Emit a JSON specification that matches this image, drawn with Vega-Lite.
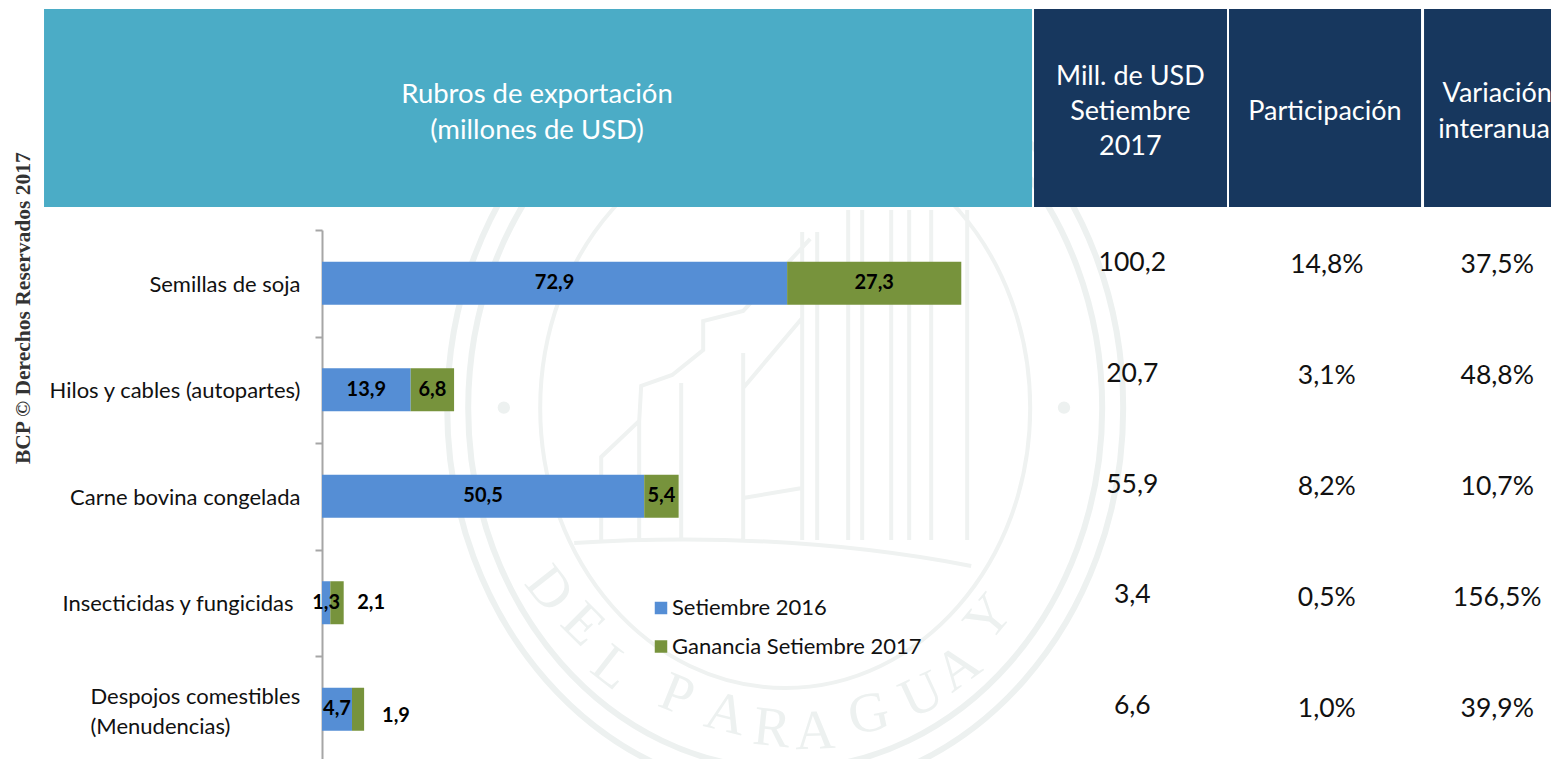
{"$schema":"https://vega.github.io/schema/vega-lite/v6.json","width":1551,"height":759,"padding":0,"autosize":{"type":"none"},"background":"white","config":{"view":{"stroke":null},"font":"Lato"},
"datasets":{"exportaciones":[
{"rubro":"Semillas de soja","serie":"Setiembre 2016","valor":72.9,"etiqueta":"72,9","orden":1},
{"rubro":"Semillas de soja","serie":"Ganancia Setiembre 2017","valor":27.3,"etiqueta":"27,3","orden":2},
{"rubro":"Hilos y cables (autopartes)","serie":"Setiembre 2016","valor":13.9,"etiqueta":"13,9","orden":1},
{"rubro":"Hilos y cables (autopartes)","serie":"Ganancia Setiembre 2017","valor":6.8,"etiqueta":"6,8","orden":2},
{"rubro":"Carne bovina congelada","serie":"Setiembre 2016","valor":50.5,"etiqueta":"50,5","orden":1},
{"rubro":"Carne bovina congelada","serie":"Ganancia Setiembre 2017","valor":5.4,"etiqueta":"5,4","orden":2},
{"rubro":"Insecticidas y fungicidas","serie":"Setiembre 2016","valor":1.3,"etiqueta":"1,3","orden":1},
{"rubro":"Insecticidas y fungicidas","serie":"Ganancia Setiembre 2017","valor":2.1,"etiqueta":"2,1","orden":2},
{"rubro":"Despojos comestibles (Menudencias)","serie":"Setiembre 2016","valor":4.7,"etiqueta":"4,7","orden":1},
{"rubro":"Despojos comestibles (Menudencias)","serie":"Ganancia Setiembre 2017","valor":1.9,"etiqueta":"1,9","orden":2}],
"tabla":[
{"rubro":"Semillas de soja","mill":"100,2","part":"14,8%","var":"37,5%"},
{"rubro":"Hilos y cables (autopartes)","mill":"20,7","part":"3,1%","var":"48,8%"},
{"rubro":"Carne bovina congelada","mill":"55,9","part":"8,2%","var":"10,7%"},
{"rubro":"Insecticidas y fungicidas","mill":"3,4","part":"0,5%","var":"156,5%"},
{"rubro":"Despojos comestibles (Menudencias)","mill":"6,6","part":"1,0%","var":"39,9%"}],
"sello":[
{"letra":"D","lon":35.6,"lat":77.6,"giro":52},{"letra":"E","lon":40.9,"lat":82.3,"giro":45},{"letra":"L","lon":45.5,"lat":88.0,"giro":38},
{"letra":"P","lon":55.6,"lat":91.6,"giro":22},{"letra":"A","lon":63.3,"lat":94.1,"giro":14},{"letra":"R","lon":70.5,"lat":96.0,"giro":6},
{"letra":"A","lon":77.3,"lat":96.4,"giro":-2},{"letra":"G","lon":85.7,"lat":94.1,"giro":-12},{"letra":"U","lon":94.0,"lat":91.6,"giro":-25},
{"letra":"A","lon":99.7,"lat":88.0,"giro":-36},{"letra":"Y","lon":104.5,"lat":81.4,"giro":-50}]},
"data":{"name":"tabla"},
"resolve":{"scale":{"y":"independent"},"axis":{"y":"independent"}},
"layer":[
{"layer":[
{"data":{"values":[{"anillo":1}]},"mark":{"type":"point","filled":false,"size":40000,"opacity":1,"stroke":"#edf1f0","strokeWidth":6,"shape":"M-3.38 0A3.38 3.85 0 1 0 3.38 0A3.38 3.85 0 1 0 -3.38 0ZM-3.17 0A3.17 3.61 0 1 0 3.17 0A3.17 3.61 0 1 0 -3.17 0Z"},"encoding":{"x":{"datum":72.6,"type":"quantitative","scale":{"domain":[-50.47,192.63],"nice":false,"zero":false},"axis":null},"y":{"datum":53.75,"type":"quantitative","scale":{"domain":[0,100],"reverse":true,"nice":false,"zero":false},"axis":null}}},
{"data":{"values":[{"anillo":2}]},"mark":{"type":"point","filled":false,"size":40000,"opacity":1,"stroke":"#eff2f1","strokeWidth":4,"shape":"M-2.45 0A2.45 2.8 0 1 0 2.45 0A2.45 2.8 0 1 0 -2.45 0ZM0.17 -1.76L0.17 1.32M0.32 -1.76L0.32 1.32M0.63 -1.98L0.63 1.32M0.77 -1.98L0.77 1.32M1.06 -1.98L1.06 1.32M1.24 -1.98L1.24 1.32M1.46 -1.98L1.46 1.32M1.82 -1.98L1.82 1.32M-2.11 1.35Q0 1.22 1.86 1.58M-1.84 1.32L-1.84 0.49L-1.46 0.13L-1.44 -0.22L-1.13 -0.33L-0.82 -0.58L-0.82 -0.87L-0.42 -0.97L0.25 -1.69M-0.42 -0.55L-0.42 1.32M-1.04 -0.25L-1.04 1.32M-1.46 0.13L-1.46 1.32M-0.42 -0.2L0.17 -0.9M-0.42 0.9L0.17 0.8"},"encoding":{"x":{"datum":72.6,"type":"quantitative","scale":{"domain":[-50.47,192.63],"nice":false,"zero":false},"axis":null},"y":{"datum":53.75,"type":"quantitative","scale":{"domain":[0,100],"reverse":true,"nice":false,"zero":false},"axis":null}}},
{"data":{"values":[{"punto":"izquierda","lon":28.5},{"punto":"derecha","lon":116.3}]},"mark":{"type":"point","filled":true,"size":154,"opacity":1,"color":"#edf1f0"},"encoding":{"x":{"field":"lon","type":"quantitative","scale":{"domain":[-50.47,192.63],"nice":false,"zero":false},"axis":null},"y":{"datum":53.7,"type":"quantitative","scale":{"domain":[0,100],"reverse":true,"nice":false,"zero":false},"axis":null}}},
{"data":{"name":"sello"},"mark":{"type":"text","font":"Liberation Serif","fontSize":56,"color":"#edf1f0","baseline":"middle"},"encoding":{"x":{"field":"lon","type":"quantitative","scale":{"domain":[-50.47,192.63],"nice":false,"zero":false},"axis":null},"y":{"field":"lat","type":"quantitative","scale":{"domain":[0,100],"reverse":true,"nice":false,"zero":false},"axis":null},"text":{"field":"letra"},"angle":{"field":"giro","type":"quantitative","scale":null}}}
]},
{"data":{"name":"exportaciones"},"encoding":{"y":{"field":"rubro","type":"nominal","sort":null,"scale":{"type":"band","domain":["Semillas de soja","Hilos y cables (autopartes)","Carne bovina congelada","Insecticidas y fungicidas","Despojos comestibles (Menudencias)"],"range":[230,762.5],"paddingInner":0,"paddingOuter":0},"axis":{"title":null,"orient":"left","offset":-322,"domainColor":"#a6a6a6","domainWidth":2,"tickColor":"#a6a6a6","tickWidth":2,"tickSize":7,"tickBand":"extent","labelFontSize":22,"labelColor":"#111111","labelFont":"Lato","labelAlign":{"condition":{"test":"datum.value==='Despojos comestibles (Menudencias)'","value":"left"},"value":"right"},"labelPadding":{"condition":[{"test":"datum.value==='Insecticidas y fungicidas'","value":22},{"test":"datum.value==='Despojos comestibles (Menudencias)'","value":225}],"value":15},"labelOffset":{"condition":{"test":"datum.value==='Despojos comestibles (Menudencias)'","value":-13},"value":1},"labelLimit":320,"labelLineHeight":30,"labelExpr":"datum.value==='Despojos comestibles (Menudencias)'?['Despojos comestibles','(Menudencias)']:datum.label"}}},
"layer":[
{"mark":{"type":"bar","size":43},"encoding":{"x":{"field":"valor","type":"quantitative","stack":"zero","scale":{"domain":[-50.47,192.63],"nice":false,"zero":false},"axis":null},"order":{"field":"orden","type":"quantitative"},"color":{"field":"serie","type":"nominal","scale":{"domain":["Setiembre 2016","Ganancia Setiembre 2017"],"range":["#558ed5","#77933c"]},"legend":{"title":null,"orient":"none","legendX":650,"legendY":597,"symbolType":"square","symbolSize":156,"symbolStrokeWidth":0,"labelFontSize":22,"labelColor":"#111111","labelFont":"Lato","labelLimit":320,"rowPadding":16.5,"labelOffset":0}}}},
{"transform":[{"filter":"!(datum.etiqueta==='2,1' || datum.etiqueta==='1,9')"}],"mark":{"type":"text","font":"Lato","fontWeight":"bold","fontSize":20,"color":"#000000","baseline":"middle"},"encoding":{"x":{"field":"valor","type":"quantitative","stack":"zero","bandPosition":0.5,"scale":{"domain":[-50.47,192.63],"nice":false,"zero":false},"axis":null},"order":{"field":"orden","type":"quantitative"},"text":{"field":"etiqueta"}}}
]},
{"mark":{"type":"text","font":"Lato","fontSize":26.5,"color":"#111111","baseline":"middle"},"encoding":{"x":{"datum":127.0,"type":"quantitative","scale":{"domain":[-50.47,192.63],"nice":false,"zero":false},"axis":null},"y":{"field":"rubro","type":"nominal","sort":null,"scale":{"type":"band","range":[207.6,761.4],"paddingInner":0,"paddingOuter":0},"axis":null},"text":{"field":"mill"}}},
{"mark":{"type":"text","font":"Lato","fontSize":26.5,"color":"#111111","baseline":"middle"},"encoding":{"x":{"datum":157.5,"type":"quantitative","scale":{"domain":[-50.47,192.63],"nice":false,"zero":false},"axis":null},"y":{"field":"rubro","type":"nominal","sort":null,"scale":{"type":"band","range":[209.5,764.5],"paddingInner":0,"paddingOuter":0},"axis":null},"text":{"field":"part"}}},
{"mark":{"type":"text","font":"Lato","fontSize":26.5,"color":"#111111","baseline":"middle"},"encoding":{"x":{"datum":184.2,"type":"quantitative","scale":{"domain":[-50.47,192.63],"nice":false,"zero":false},"axis":null},"y":{"field":"rubro","type":"nominal","sort":null,"scale":{"type":"band","range":[209.5,764.5],"paddingInner":0,"paddingOuter":0},"axis":null},"text":{"field":"var"}}},
{"layer":[
{"data":{"values":[{"cabecera":"rubros"}]},"mark":{"type":"rect","color":"#4bacc6"},"encoding":{"x":{"datum":-43.57,"type":"quantitative","scale":{"domain":[-50.47,192.63],"nice":false,"zero":false},"axis":null},"x2":{"datum":111.29},"y":{"datum":1.19,"type":"quantitative","scale":{"domain":[0,100],"reverse":true,"nice":false,"zero":false},"axis":null},"y2":{"datum":27.27}}},
{"data":{"values":[{"cabecera":"mill"}]},"mark":{"type":"rect","color":"#17375e"},"encoding":{"x":{"datum":111.6,"type":"quantitative","scale":{"domain":[-50.47,192.63],"nice":false,"zero":false},"axis":null},"x2":{"datum":141.85},"y":{"datum":1.19,"type":"quantitative","scale":{"domain":[0,100],"reverse":true,"nice":false,"zero":false},"axis":null},"y2":{"datum":27.27}}},
{"data":{"values":[{"cabecera":"part"}]},"mark":{"type":"rect","color":"#17375e"},"encoding":{"x":{"datum":142.16,"type":"quantitative","scale":{"domain":[-50.47,192.63],"nice":false,"zero":false},"axis":null},"x2":{"datum":172.26},"y":{"datum":1.19,"type":"quantitative","scale":{"domain":[0,100],"reverse":true,"nice":false,"zero":false},"axis":null},"y2":{"datum":27.27}}},
{"data":{"values":[{"cabecera":"var"}]},"mark":{"type":"rect","color":"#17375e"},"encoding":{"x":{"datum":172.73,"type":"quantitative","scale":{"domain":[-50.47,192.63],"nice":false,"zero":false},"axis":null},"x2":{"datum":192.63},"y":{"datum":1.19,"type":"quantitative","scale":{"domain":[0,100],"reverse":true,"nice":false,"zero":false},"axis":null},"y2":{"datum":27.27}}},
{"data":{"values":[{"cabecera":"rubros"}]},"mark":{"type":"text","font":"Lato","fontSize":27.5,"color":"white","baseline":"middle","lineHeight":36,"text":["Rubros de exportación","(millones de USD)"]},"encoding":{"x":{"datum":33.7,"type":"quantitative","scale":{"domain":[-50.47,192.63],"nice":false,"zero":false},"axis":null},"y":{"datum":12.51,"type":"quantitative","scale":{"domain":[0,100],"reverse":true,"nice":false,"zero":false},"axis":null}}},
{"data":{"values":[{"cabecera":"mill"}]},"mark":{"type":"text","font":"Lato","fontSize":27,"color":"white","baseline":"middle","lineHeight":35,"text":["Mill. de USD","Setiembre","2017"]},"encoding":{"x":{"datum":126.7,"type":"quantitative","scale":{"domain":[-50.47,192.63],"nice":false,"zero":false},"axis":null},"y":{"datum":10.15,"type":"quantitative","scale":{"domain":[0,100],"reverse":true,"nice":false,"zero":false},"axis":null}}},
{"data":{"values":[{"cabecera":"part"}]},"mark":{"type":"text","font":"Lato","fontSize":27,"color":"white","baseline":"middle","text":"Participación"},"encoding":{"x":{"datum":157.2,"type":"quantitative","scale":{"domain":[-50.47,192.63],"nice":false,"zero":false},"axis":null},"y":{"datum":14.76,"type":"quantitative","scale":{"domain":[0,100],"reverse":true,"nice":false,"zero":false},"axis":null}}},
{"data":{"values":[{"cabecera":"var"}]},"mark":{"type":"text","font":"Lato","fontSize":27,"color":"white","baseline":"middle","lineHeight":36,"text":["Variación","interanual"]},"encoding":{"x":{"datum":184.2,"type":"quantitative","scale":{"domain":[-50.47,192.63],"nice":false,"zero":false},"axis":null},"y":{"datum":12.39,"type":"quantitative","scale":{"domain":[0,100],"reverse":true,"nice":false,"zero":false},"axis":null}}},
{"data":{"values":[{"nota":"BCP © Derechos Reservados 2017"}]},"mark":{"type":"text","font":"Liberation Serif","fontWeight":"bold","fontSize":21.5,"color":"#333333","baseline":"middle","angle":270},"encoding":{"x":{"datum":-46.7,"type":"quantitative","scale":{"domain":[-50.47,192.63],"nice":false,"zero":false},"axis":null},"y":{"datum":40.6,"type":"quantitative","scale":{"domain":[0,100],"reverse":true,"nice":false,"zero":false},"axis":null},"text":{"field":"nota"}}},
{"data":{"name":"exportaciones"},"transform":[{"filter":"datum.etiqueta==='2,1'"}],"mark":{"type":"text","font":"Lato","fontWeight":"bold","fontSize":20,"color":"#000000","baseline":"middle"},"encoding":{"x":{"datum":7.7,"type":"quantitative","scale":{"domain":[-50.47,192.63],"nice":false,"zero":false},"axis":null},"y":{"datum":79.4,"type":"quantitative","scale":{"domain":[0,100],"reverse":true,"nice":false,"zero":false},"axis":null},"text":{"field":"etiqueta"}}},
{"data":{"name":"exportaciones"},"transform":[{"filter":"datum.etiqueta==='1,9'"}],"mark":{"type":"text","font":"Lato","fontWeight":"bold","fontSize":20,"color":"#000000","baseline":"middle"},"encoding":{"x":{"datum":11.6,"type":"quantitative","scale":{"domain":[-50.47,192.63],"nice":false,"zero":false},"axis":null},"y":{"datum":94.3,"type":"quantitative","scale":{"domain":[0,100],"reverse":true,"nice":false,"zero":false},"axis":null},"text":{"field":"etiqueta"}}}
]}
]}
